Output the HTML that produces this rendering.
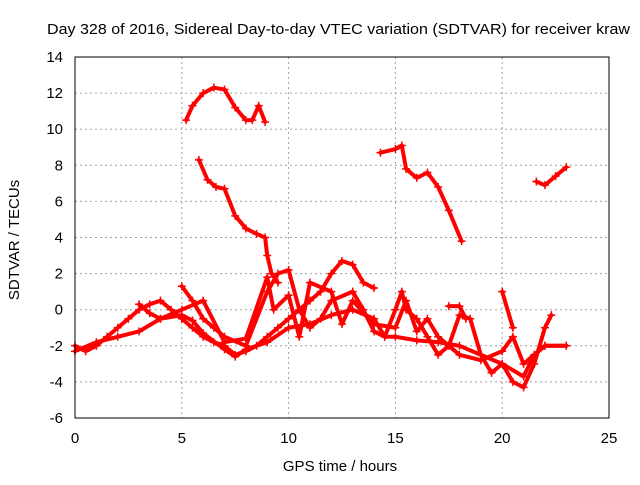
<!DOCTYPE html>
<html><head><meta charset="utf-8"><style>
body{margin:0;background:#fff;}
svg text{font-family:"Liberation Sans",sans-serif;font-size:15px;fill:#000;}
</style></head><body>
<svg id="chart" width="640" height="480" xmlns="http://www.w3.org/2000/svg">
<text x="47" y="34" textLength="583" lengthAdjust="spacingAndGlyphs">Day 328 of 2016, Sidereal Day-to-day VTEC variation (SDTVAR) for receiver kraw</text>
<text x="340" y="471" text-anchor="middle">GPS time / hours</text>
<text x="19" y="240" text-anchor="middle" transform="rotate(-90 19 240)">SDTVAR / TECUs</text>
<g id="grid"></g><g id="ticks"></g><g id="series"></g>
<rect x="75" y="57" width="534" height="361" fill="none" stroke="#000" stroke-width="1"/>
</svg>
<script>
const xTicks=[0,5,10,15,20,25];
const yTicks=[-6,-4,-2,0,2,4,6,8,10,12,14];
const s1=[[5.2,10.5],[5.5,11.3],[6,12],[6.5,12.3],[7,12.2],[7.5,11.2],[8,10.5],[8.3,10.5],[8.6,11.3],[8.9,10.4]];
const s2=[[5.8,8.3],[6.2,7.2],[6.6,6.8],[7,6.7],[7.5,5.2],[8,4.5],[8.5,4.2],[8.9,4],[9,3],[9.2,2],[9.5,1.5]];
const s3=[[14.3,8.7],[15,8.9],[15.3,9.1],[15.5,7.8],[16,7.3],[16.5,7.6],[17,6.8],[17.5,5.5],[18.1,3.8]];
const s4=[[21.6,7.1],[22,6.9],[22.5,7.4],[23,7.9]];
const bandA=[[0,-2],[0.5,-2.3],[1,-2],[1.5,-1.5],[2,-1],[2.5,-0.5],[3,0],[3.5,0.3],[4,0.5],[4.5,0],[5,-0.5],[5.5,-1],[6,-1.5],[6.5,-1.8],[7,-2],[7.5,-2.5],[8,-2.3],[8.5,-2],[9,-1.5],[9.5,-1],[10,-0.5],[10.5,0],[11,0.5],[11.5,1],[12,2],[12.5,2.7],[13,2.5],[13.5,1.5],[14,1.2]];
const bandB=[[0,-2.3],[1,-1.8],[2,-1.5],[3,-1.2],[4,-0.5],[5,-0.3],[5.5,-0.6],[6,-1.3],[7,-2.2],[7.5,-2.6],[8,-2.2],[9,-1.8],[10,-1],[11,-0.8],[12,-0.3],[13,0],[14,-0.5],[14.5,-1.5],[15,-1.5],[16,-1.7],[17,-1.8],[18,-2],[19,-2.5],[20,-3],[21,-3.7],[21.5,-2.5],[22,-2],[23,-2]];
const bandC=[[5,1.3],[5.5,0.5],[6,-0.5],[6.5,-1],[7,-1.5],[8,-2],[9,1],[9.5,2],[10,2.2],[10.5,0],[11,-1],[11.5,-0.5],[12,0.5],[13,1],[13.5,0],[14,-1.2],[14.5,-1.5],[15,0],[15.3,1],[15.5,0],[16,-0.5],[16.5,-1.5],[17,-2.5],[17.5,-2],[18,-0.3],[18.5,-0.5],[19,-2.5],[19.5,-3.5],[20,-3],[20.5,-4],[21,-4.3],[21.5,-3],[22,-1],[22.3,-0.3]];
const bandD=[[3,0.3],[3.5,-0.2],[4,-0.5],[5,0],[6,0.5],[7,-1.8],[8,-1.6],[9,1.8],[9.3,0],[10,0.8],[10.5,-1.5],[11,1.5],[12,1],[12.5,-0.8],[13,0.5],[14,-0.8],[15,-1],[15.5,0.5],[16,-1.2],[16.5,-0.5],[17,-1.5],[18,-2.5],[19,-2.8],[20,-2.3],[20.5,-1.5],[21,-3],[21.5,-2.5],[22,-2],[23,-2]];
const bandE=[[17.5,0.2],[18,0.2],[18.3,-0.5]];
const bandF=[[20,1],[20.5,-1]];
const seriesList=[s1,s2,s3,s4,bandA,bandB,bandC,bandD,bandE,bandF];
const NS="http://www.w3.org/2000/svg";
const X=v=>75+v*(534/25), Y=v=>418-(v+6)*(361/20);
const grid=document.getElementById('grid'),ticks=document.getElementById('ticks'),ser=document.getElementById('series');
function mk(t,a,p){const e=document.createElementNS(NS,t);for(const k in a)e.setAttribute(k,a[k]);p.appendChild(e);return e;}
xTicks.forEach(v=>{const x=X(v);
 if(v>0&&v<25){const g=mk('line',{x1:x,x2:x,y1:57,y2:418,stroke:'#a0a0a0','stroke-dasharray':'2,3'},grid);
 
 }
 const t=mk('text',{x:x,y:443,'text-anchor':'middle'},ticks);t.textContent=v;
 
 });
yTicks.forEach(v=>{const y=Y(v);
 if(v>-6&&v<14){const g=mk('line',{x1:75,x2:609,y1:y,y2:y,stroke:'#a0a0a0','stroke-dasharray':'2,3'},grid);
 
 }
 const t=mk('text',{x:63,y:y+5,'text-anchor':'end'},ticks);t.textContent=v;
 
 });
seriesList.forEach((s,i)=>{
 const g=mk('g',{},ser);
 
 
 mk('polyline',{points:s.map(p=>X(p[0])+','+Y(p[1])).join(' '),fill:'none',stroke:'#f00','stroke-width':4,'stroke-linejoin':'round','stroke-linecap':'round'},g);
 s.forEach(p=>{const x=X(p[0]),y=Y(p[1]);
  const m=mk('path',{d:`M${x-4},${y}h8M${x},${y-4}v8`,stroke:'#f00','stroke-width':1.5},g);
  
  });
});
</script>
</body></html>
